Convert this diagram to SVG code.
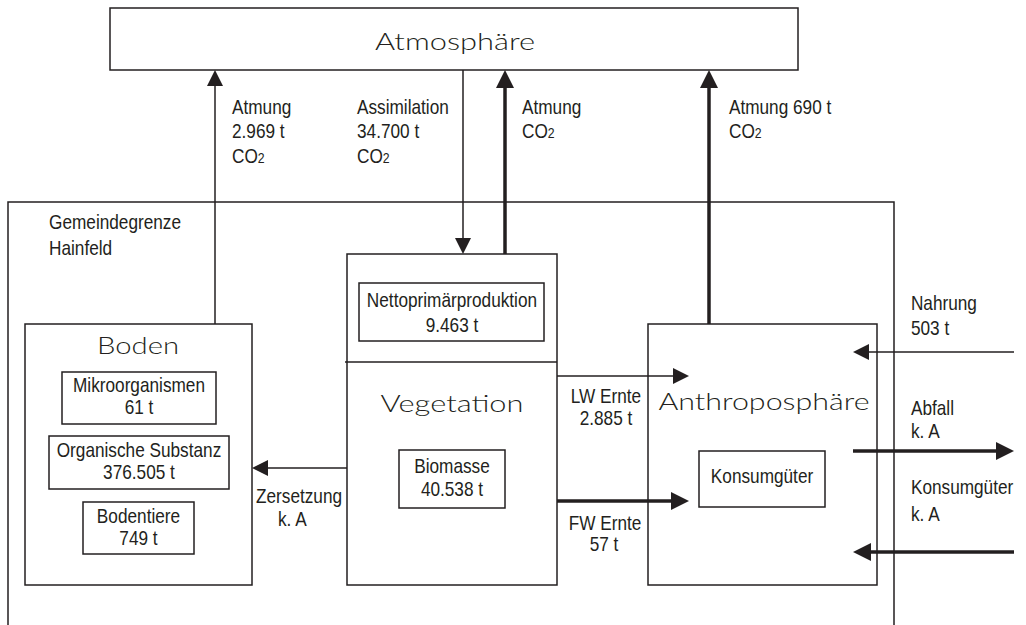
<svg xmlns="http://www.w3.org/2000/svg" width="1026" height="625" viewBox="0 0 1026 625">
<style>
  .box { fill: none; stroke: #231f20; stroke-width: 1.5; }
  .thin { fill: none; stroke: #231f20; stroke-width: 1.5; }
  .thick { fill: none; stroke: #231f20; stroke-width: 3.5; }
  .t { font-family: "Liberation Sans", Arial, sans-serif; font-size: 21px; fill: #231f20; }
  .c { text-anchor: middle; }
  .sub { font-size: 15px; }
  .title { font-family: Lato, "DejaVu Sans", sans-serif; font-weight: 300; font-size: 24px; fill: #231f20; text-anchor: middle; }
</style>
<defs>
  <marker id="ah" viewBox="0 0 16 16" refX="8" refY="8" markerWidth="16" markerHeight="16" markerUnits="userSpaceOnUse" orient="auto">
    <path d="M0,0 L16,8 L0,16 Z" fill="#231f20"/>
  </marker>
  <marker id="ahb" viewBox="0 0 18 18" refX="9" refY="9" markerWidth="18" markerHeight="18" markerUnits="userSpaceOnUse" orient="auto">
    <path d="M0,0 L18,9 L0,18 Z" fill="#231f20"/>
  </marker>
</defs>
<rect width="1026" height="625" fill="#ffffff"/>

<g id="gemeinde">
  <path class="box" d="M8,630 V202 H894 V630"/>
  <g transform="scale(0.82,1)">
    <text class="t" x="59.8" y="229">Gemeindegrenze</text>
    <text class="t" x="59.8" y="255">Hainfeld</text>
  </g>
</g>

<g id="atmosphaere">
  <rect class="box" x="110" y="8" width="688" height="62"/>
  <text class="title" x="455" y="50" textLength="160" lengthAdjust="spacingAndGlyphs">Atmosphäre</text>
</g>

<g id="boden">
  <rect class="box" x="25" y="324" width="227" height="261"/>
  <text class="title" x="138" y="354" textLength="82" lengthAdjust="spacingAndGlyphs">Boden</text>
  <rect class="box" x="62" y="372" width="154" height="52"/>
  <rect class="box" x="49" y="436" width="180" height="53"/>
  <rect class="box" x="83" y="502" width="111" height="52"/>
  <g transform="scale(0.82,1)">
    <text class="t c" x="169.5" y="392">Mikroorganismen</text>
    <text class="t c" x="169.5" y="414">61 t</text>
    <text class="t c" x="169.5" y="457">Organische Substanz</text>
    <text class="t c" x="169.5" y="479">376.505 t</text>
    <text class="t c" x="168.9" y="523">Bodentiere</text>
    <text class="t c" x="168.9" y="545">749 t</text>
  </g>
</g>

<g id="vegetation">
  <rect class="box" x="347" y="254" width="210" height="331"/>
  <line class="box" x1="345" y1="362" x2="557" y2="362"/>
  <rect class="box" x="359" y="283" width="185" height="58"/>
  <text class="title" x="452" y="412" textLength="143" lengthAdjust="spacingAndGlyphs">Vegetation</text>
  <rect class="box" x="399" y="450" width="106" height="58"/>
  <g transform="scale(0.82,1)">
    <text class="t c" x="551.2" y="307">Nettoprimärproduktion</text>
    <text class="t c" x="551.2" y="332">9.463 t</text>
    <text class="t c" x="551.2" y="473">Biomasse</text>
    <text class="t c" x="551.2" y="496">40.538 t</text>
  </g>
</g>

<g id="anthroposphaere">
  <rect class="box" x="648" y="324" width="229" height="261"/>
  <text class="title" x="764" y="410" textLength="211" lengthAdjust="spacingAndGlyphs">Anthroposphäre</text>
  <rect class="box" x="699" y="451" width="126" height="56"/>
  <g transform="scale(0.82,1)">
    <text class="t c" x="929.3" y="483">Konsumgüter</text>
  </g>
</g>

<g id="connectors">
  <line class="thin" x1="215" y1="324" x2="215" y2="78" marker-end="url(#ah)"/>
  <line class="thin" x1="463" y1="70" x2="463" y2="246" marker-end="url(#ah)"/>
  <line class="thick" x1="505" y1="254" x2="505" y2="79" marker-end="url(#ahb)"/>
  <line class="thick" x1="709" y1="324" x2="709" y2="79" marker-end="url(#ahb)"/>
  <line class="thin" x1="347" y1="468" x2="260" y2="468" marker-end="url(#ah)"/>
  <line class="thin" x1="557" y1="376" x2="681" y2="376" marker-end="url(#ah)"/>
  <line class="thick" x1="557" y1="501" x2="680" y2="501" marker-end="url(#ahb)"/>
  <line class="thin" x1="1014" y1="352" x2="861" y2="352" marker-end="url(#ah)"/>
  <line class="thick" x1="853" y1="451" x2="1005" y2="451" marker-end="url(#ahb)"/>
  <line class="thick" x1="1014" y1="552" x2="862" y2="552" marker-end="url(#ahb)"/>
</g>

<g id="labels" transform="scale(0.82,1)">
  <text class="t" x="282.9" y="114">Atmung</text>
  <text class="t" x="282.9" y="138">2.969 t</text>
  <text class="t" x="282.9" y="163">CO<tspan class="sub">2</tspan></text>
  <text class="t" x="435.4" y="114">Assimilation</text>
  <text class="t" x="435.4" y="138">34.700 t</text>
  <text class="t" x="435.4" y="163">CO<tspan class="sub">2</tspan></text>
  <text class="t" x="636.6" y="114">Atmung</text>
  <text class="t" x="636.6" y="138">CO<tspan class="sub">2</tspan></text>
  <text class="t" x="889" y="114">Atmung 690 t</text>
  <text class="t" x="889" y="138">CO<tspan class="sub">2</tspan></text>
  <text class="t" x="312.2" y="503">Zersetzung</text>
  <text class="t" x="339" y="526">k. A</text>
  <text class="t c" x="739" y="403">LW Ernte</text>
  <text class="t c" x="739" y="425">2.885 t</text>
  <text class="t c" x="737.8" y="530">FW Ernte</text>
  <text class="t c" x="736.6" y="551">57 t</text>
  <text class="t" x="1110.9" y="310">Nahrung</text>
  <text class="t" x="1110.9" y="335">503 t</text>
  <text class="t" x="1110.9" y="415">Abfall</text>
  <text class="t" x="1110.9" y="438">k. A</text>
  <text class="t" x="1110.9" y="494">Konsumgüter</text>
  <text class="t" x="1110.9" y="521">k. A</text>
</g>
</svg>
